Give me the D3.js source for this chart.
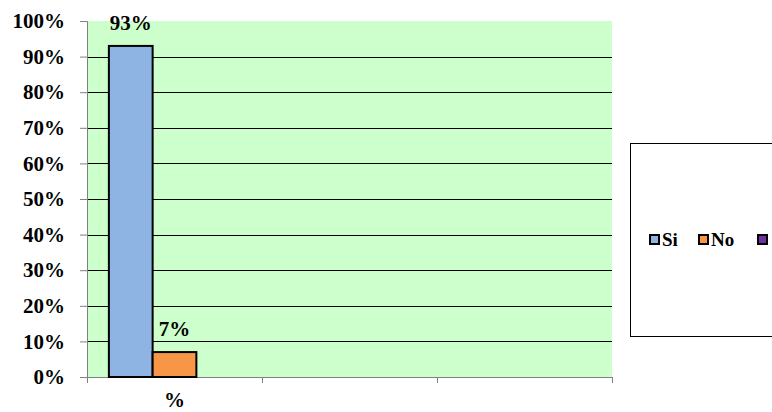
<!DOCTYPE html>
<html>
<head>
<meta charset="utf-8">
<script src="https://cdn.jsdelivr.net/npm/d3@7"></script>
<style>
  html, body { margin: 0; padding: 0; background: #fff; }
  svg { display: block; }
  svg text { font-family: "Liberation Serif", "Times New Roman", serif; font-weight: bold; fill: #000; }
</style>
</head>
<body>
<svg id="chart" width="772" height="412"></svg>
<script>
// Survey answer shares per category group
const categories = ["%", "", ""];
const seriesNames = ["Si", "No", ""];
const seriesColors = ["#8EB4E3", "#F79646", "#7030A0"];
const siValues = [93, null, null];
const noValues = [7, null, null];
const blankValues = [null, null, null];
const yTicks = [0, 10, 20, 30, 40, 50, 60, 70, 80, 90, 100];

const seriesValues = [siValues, noValues, blankValues];

const svg = d3.select("#chart");
const plot = { left: 87, right: 612, top: 21, bottom: 377 };

const x = d3.scaleBand()
  .domain(d3.range(categories.length))
  .range([plot.left, plot.right])
  .paddingInner(0).paddingOuter(0);

// three series slots per group, half a slot of gap on either side
const xInner = d3.scaleBand()
  .domain(d3.range(seriesNames.length))
  .range([0, x.bandwidth()])
  .paddingOuter(0.5)
  .paddingInner(0);

const y = d3.scaleLinear().domain([0, 100]).range([plot.bottom, plot.top]);

// plot background
svg.append("rect")
  .attr("x", plot.left).attr("y", plot.top)
  .attr("width", plot.right - plot.left).attr("height", plot.bottom - plot.top)
  .attr("fill", "#CCFFCC");

// horizontal gridlines
svg.append("g")
  .selectAll("line")
  .data(yTicks.filter(t => t > 0 && t < 100))
  .join("line")
  .attr("x1", plot.left).attr("x2", plot.right)
  .attr("y1", d => Math.round(y(d)) + 0.5).attr("y2", d => Math.round(y(d)) + 0.5)
  .attr("stroke", "#000").attr("stroke-width", 1);

// y axis
const yAxis = d3.axisLeft(y)
  .tickValues(yTicks)
  .tickFormat(d => d + "%")
  .tickSize(7).tickPadding(15);
const yg = svg.append("g").attr("transform", `translate(${plot.left},0)`).call(yAxis);
yg.attr("font-family", null).attr("font-size", null);
yg.select(".domain").attr("stroke", "#808080");
yg.selectAll(".tick line").attr("stroke", "#808080");
yg.selectAll(".tick text")
  .attr("fill", null)
  .style("font-size", "21px");

// x axis
const xAxis = d3.axisBottom(
  d3.scaleLinear().domain([0, categories.length]).range([plot.left, plot.right]))
  .tickValues(d3.range(categories.length + 1))
  .tickFormat("")
  .tickSize(6);
const xg = svg.append("g").attr("transform", `translate(0,${plot.bottom})`).call(xAxis);
xg.select(".domain").attr("stroke", "#808080");
xg.selectAll(".tick line").attr("stroke", "#808080");

svg.append("g")
  .selectAll("text")
  .data(categories)
  .join("text")
  .attr("x", (d, i) => x(i) + x.bandwidth() / 2)
  .attr("y", 407)
  .attr("text-anchor", "middle")
  .style("font-size", "21px")
  .text(d => d);

// bars
const barW = xInner.bandwidth();
seriesValues.forEach((vals, s) => {
  const g = svg.append("g");
  const pts = vals.map((v, i) => ({ v, i })).filter(d => d.v != null);
  g.selectAll("rect")
    .data(pts)
    .join("rect")
    .attr("x", d => x(d.i) + xInner(s))
    .attr("y", d => y(d.v))
    .attr("width", barW)
    .attr("height", d => y(0) - y(d.v))
    .attr("fill", seriesColors[s])
    .attr("stroke", "#000").attr("stroke-width", 2);
  g.selectAll("text")
    .data(pts)
    .join("text")
    .attr("x", d => x(d.i) + xInner(s) + barW / 2)
    .attr("y", d => y(d.v) - 16)
    .attr("text-anchor", "middle")
    .style("font-size", "21px")
    .text(d => d.v + "%");
});

// legend
const legend = svg.append("g");
legend.append("rect")
  .attr("x", 630.5).attr("y", 143.5).attr("width", 160).attr("height", 193)
  .attr("fill", "#fff").attr("stroke", "#000").attr("stroke-width", 1);
const legendX = [650, 699, 758];
seriesNames.forEach((name, s) => {
  legend.append("rect")
    .attr("x", legendX[s]).attr("y", 235).attr("width", 9).attr("height", 9)
    .attr("fill", seriesColors[s]).attr("stroke", "#000").attr("stroke-width", 2);
  legend.append("text")
    .attr("x", legendX[s] + 12).attr("y", 246)
    .style("font-size", "19px")
    .text(name);
});
</script>
</body>
</html>
